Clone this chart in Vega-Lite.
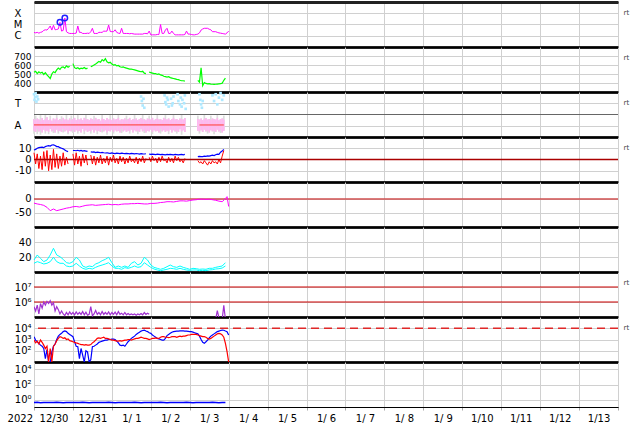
{
"$schema":"https://vega.github.io/schema/vega-lite/v6.json",
"padding":{"left":6,"top":1,"right":0,"bottom":0},
"spacing":0,
"bounds":"flush",
"datasets":{
"h":[
{"t":"2022-12-30T00:00","xr":2.0,"sp":520,"bt":8.4,"bz":6,"p7":4.9e5,"e1":1778,"e2":891,"pl":0.55,"ph":1.6,"gl":0.3,"gh":1.6},
{"t":"2022-12-30T01:00","xr":1.8,"sp":530,"bt":9,"bz":-4,"p7":2.5e5,"e1":891,"e2":501,"pl":0.45,"ph":1.5,"gl":0.45,"gh":1.9},
{"t":"2022-12-30T02:00","xr":2.0,"sp":505,"bt":10,"bz":5,"p7":6.2e5,"e1":631,"e2":708,"pl":0.7,"ph":1.65,"gl":0.25,"gh":1.65},
{"t":"2022-12-30T03:00","xr":1.7,"sp":525,"bt":10.5,"bz":-8,"p7":1.6e5,"e1":457,"e2":398,"pl":0.5,"ph":1.55,"gl":0.5,"gh":1.55},
{"t":"2022-12-30T04:00","xr":2.0,"sp":510,"bt":10.8,"bz":3,"p7":7.9e5,"e1":316,"e2":891,"pl":0.6,"ph":1.45,"gl":0.2,"gh":1.95},
{"t":"2022-12-30T05:00","xr":2.2,"sp":520,"bt":11,"bz":-9,"p7":3.9e5,"e1":251,"e2":562,"pl":0.4,"ph":1.7,"gl":0.4,"gh":1.7},
{"t":"2022-12-30T06:00","xr":3.0,"sp":495,"bt":10.5,"bz":7,"p7":9.9e5,"e1":158,"e2":316,"pl":0.65,"ph":1.5,"gl":0.65,"gh":1.5},
{"t":"2022-12-30T07:00","xr":3.4,"sp":515,"bt":11.5,"bz":-6,"p7":6.2e5,"e1":20,"e2":158,"pl":0.5,"ph":1.6,"gl":0.3,"gh":2.05},
{"t":"2022-12-30T08:00","xr":3.2,"sp":490,"bt":12,"bz":8,"p7":1.08e6,"e1":126,"e2":251,"pl":0.55,"ph":1.75,"gl":0.55,"gh":1.75},
{"t":"2022-12-30T09:00","xr":4.6,"sp":470,"bt":12.3,"bz":-10,"p7":7.9e5,"e1":10,"e2":10,"pl":0.45,"ph":1.5,"gl":0.25,"gh":1.5},
{"t":"2022-12-30T10:00","xr":7.4,"sp":450,"bt":12,"bz":4,"p7":1.24e6,"e1":10,"e2":158,"pl":0.7,"ph":1.6,"gl":0.7,"gh":1.9},
{"t":"2022-12-30T11:00","xr":3.2,"sp":500,"bt":12.9,"bz":-9,"p7":6.2e5,"e1":79,"e2":10,"pl":0.5,"ph":1.45,"gl":0.5,"gh":1.45},
{"t":"2022-12-30T12:00","xr":8.5,"sp":525,"bt":13,"bz":9,"p7":9e5,"e1":251,"e2":251,"pl":0.6,"ph":1.65,"gl":0.35,"gh":1.65},
{"t":"2022-12-30T13:00","xr":3.4,"sp":515,"bt":12.5,"bz":-7,"p7":2.5e5,"e1":398,"e2":398,"pl":0.4,"ph":1.55,"gl":0.4,"gh":1.55},
{"t":"2022-12-30T14:00","xr":3.6,"sp":545,"bt":11.5,"bz":5,"p7":4.9e5,"e1":1000,"e2":794,"pl":0.65,"ph":1.7,"gl":0.65,"gh":2.0},
{"t":"2022-12-30T15:00","xr":4.0,"sp":565,"bt":11.4,"bz":-8,"p7":3.1e5,"e1":1995,"e2":1259,"pl":0.5,"ph":1.5,"gl":0.3,"gh":1.5},
{"t":"2022-12-30T16:00","xr":15.5,"sp":550,"bt":10.5,"bz":3,"p7":1.6e5,"e1":2818,"e2":1778,"pl":0.55,"ph":1.6,"gl":0.55,"gh":1.6},
{"t":"2022-12-30T17:00","xr":2.6,"sp":575,"bt":10,"bz":-6,"p7":2.5e5,"e1":3548,"e2":1585,"pl":0.45,"ph":1.45,"gl":0.45,"gh":1.85},
{"t":"2022-12-30T18:00","xr":3.0,"sp":580,"bt":9.5,"bz":6,"p7":1.6e5,"e1":5012,"e2":1259,"pl":0.7,"ph":1.7,"gl":0.4,"gh":1.7},
{"t":"2022-12-30T19:00","xr":38,"sp":565,"bt":8.5,"bz":-5,"p7":1.24e5,"e1":5754,"e2":1413,"pl":0.5,"ph":1.55,"gl":0.5,"gh":1.55},
{"t":"2022-12-30T20:00","xr":2.3,"sp":590,"bt":7.5,"bz":2,"p7":2.0e5,"e1":5012,"e2":1000,"pl":0.6,"ph":1.6,"gl":0.6,"gh":2.0},
{"t":"2022-12-30T21:00","xr":1.8,"sp":575,"bt":7,"bz":-4,"p7":1.4e5,"e1":3548,"e2":1122,"pl":0.4,"ph":1.5,"gl":0.25,"gh":1.5},
{"t":"2022-12-30T22:00","xr":1.6,"sp":585,"p7":2.2e5,"e1":2818,"e2":794,"pl":0.55,"ph":1.65,"gl":0.55,"gh":1.65},
{"t":"2022-12-30T23:00","xr":1.6,"p7":1.5e5,"e1":2239,"e2":708,"pl":0.5,"ph":1.5,"gl":0.5,"gh":1.9},
{"t":"2022-12-31T00:00","xr":1.6,"sp":615,"bt":8,"bz":5,"p7":2.0e5,"e1":1778,"e2":631,"pl":0.65,"ph":1.6,"gl":0.35,"gh":1.6},
{"t":"2022-12-31T01:00","xr":1.6,"sp":570,"bt":8,"bz":-5,"p7":1.4e5,"e1":631,"e2":562,"pl":0.45,"ph":1.7,"gl":0.45,"gh":1.7},
{"t":"2022-12-31T02:00","xr":1.7,"sp":560,"bt":7.8,"bz":6,"p7":2.2e5,"e1":251,"e2":501,"pl":0.6,"ph":1.5,"gl":0.6,"gh":1.5},
{"t":"2022-12-31T03:00","xr":7.4,"sp":570,"bt":8.2,"bz":-4,"p7":1.5e5,"e1":229,"e2":457,"pl":0.5,"ph":1.6,"gl":0.3,"gh":2.0},
{"t":"2022-12-31T04:00","xr":2.0,"sp":555,"bt":7.6,"bz":3,"p7":2.0e5,"e1":20,"e2":398,"pl":0.55,"ph":1.55,"gl":0.55,"gh":1.55},
{"t":"2022-12-31T05:00","xr":2.0,"sp":565,"bt":8,"bz":-6,"p7":1.5e5,"e1":158,"e2":355,"pl":0.4,"ph":1.65,"gl":0.4,"gh":1.65},
{"t":"2022-12-31T06:00","xr":1.6,"sp":560,"bt":7.5,"bz":5,"p7":2.3e5,"e1":40,"e2":355,"pl":0.7,"ph":1.5,"gl":0.7,"gh":1.5},
{"t":"2022-12-31T07:00","xr":1.6,"sp":572,"bt":7.8,"bz":-3,"p7":1.4e5,"e1":10,"e2":316,"pl":0.5,"ph":1.7,"gl":0.25,"gh":1.7},
{"t":"2022-12-31T08:00","xr":1.6,"sp":558,"bt":7.5,"bz":4,"p7":2.1e5,"e1":100,"e2":355,"pl":0.6,"ph":1.55,"gl":0.6,"gh":1.95},
{"t":"2022-12-31T09:00","xr":1.7,"sp":565,"bt":7.2,"bz":-5,"p7":1.3e5,"e1":79,"e2":316,"pl":0.45,"ph":1.6,"gl":0.45,"gh":1.6},
{"t":"2022-12-31T10:00","xr":1.6,"p7":1.5e5,"e1":10,"e2":316,"pl":0.55,"ph":1.5,"gl":0.55,"gh":1.5},
{"t":"2022-12-31T11:00","xr":2.3,"sp":580,"bt":6.8,"bz":4,"p7":4.9e5,"e1":16,"e2":355,"pl":0.5,"ph":1.65,"gl":0.3,"gh":1.65},
{"t":"2022-12-31T12:00","xr":4.6,"sp":590,"bt":6.5,"bz":-4,"p7":1.2e5,"e1":229,"e2":501,"pl":0.65,"ph":1.6,"gl":0.65,"gh":1.6},
{"t":"2022-12-31T13:00","xr":1.6,"sp":600,"bt":6.8,"bz":3,"p7":1.6e5,"e1":251,"e2":631,"pl":0.4,"ph":1.5,"gl":0.4,"gh":1.9},
{"t":"2022-12-31T14:00","xr":1.6,"sp":610,"bt":6.2,"bz":-5,"p7":2.7e5,"e1":316,"e2":891,"pl":0.6,"ph":1.7,"gl":0.6,"gh":1.7},
{"t":"2022-12-31T15:00","xr":1.6,"sp":625,"bt":6.5,"bz":2,"p7":1.5e5,"e1":398,"e2":1259,"pl":0.5,"ph":1.55,"gl":0.25,"gh":1.55},
{"t":"2022-12-31T16:00","xr":2.0,"sp":640,"bt":6.4,"bz":-3,"p7":2.0e5,"e1":562,"e2":1413,"pl":0.55,"ph":1.6,"gl":0.55,"gh":1.6},
{"t":"2022-12-31T17:00","xr":2.0,"sp":630,"bt":6.0,"bz":4,"p7":1.4e5,"e1":631,"e2":1259,"pl":0.45,"ph":1.45,"gl":0.45,"gh":1.45},
{"t":"2022-12-31T18:00","xr":2.0,"sp":660,"bt":6.3,"bz":-4,"p7":2.3e5,"e1":708,"e2":1445,"pl":0.7,"ph":1.65,"gl":0.4,"gh":2.05},
{"t":"2022-12-31T19:00","xr":2.6,"sp":645,"bt":6.0,"bz":1,"p7":1.5e5,"e1":794,"e2":1585,"pl":0.5,"ph":1.6,"gl":0.5,"gh":1.6},
{"t":"2022-12-31T20:00","xr":2.5,"sp":670,"bt":5.8,"bz":-3,"p7":2.0e5,"e1":891,"e2":1259,"pl":0.6,"ph":1.5,"gl":0.6,"gh":1.5},
{"t":"2022-12-31T21:00","xr":2.6,"sp":635,"bt":6.0,"bz":3,"p7":1.5e5,"e1":891,"e2":1259,"pl":0.4,"ph":1.7,"gl":0.2,"gh":1.7},
{"t":"2022-12-31T22:00","xr":9.1,"sp":625,"bt":5.6,"bz":-5,"p7":2.2e5,"e1":1000,"e2":1122,"pl":0.55,"ph":1.55,"gl":0.55,"gh":1.55},
{"t":"2022-12-31T23:00","xr":2.4,"sp":630,"bt":5.4,"bz":2,"p7":1.4e5,"e1":1000,"e2":1000,"pl":0.5,"ph":1.6,"gl":0.5,"gh":1.95},
{"t":"2023-01-01T00:00","xr":2.3,"sp":610,"bt":5.8,"bz":-2,"p7":2.0e5,"e1":1096,"e2":891,"pl":0.65,"ph":1.5,"gl":0.65,"gh":1.5},
{"t":"2023-01-01T01:00","xr":2.3,"sp":600,"bt":5.5,"bz":4,"p7":1.5e5,"e1":1096,"e2":891,"pl":0.45,"ph":1.65,"gl":0.3,"gh":1.65},
{"t":"2023-01-01T02:00","xr":3.4,"sp":605,"bt":5.2,"bz":-3,"p7":2.1e5,"e1":1000,"e2":794,"pl":0.6,"ph":1.55,"gl":0.6,"gh":1.55},
{"t":"2023-01-01T03:00","xr":2.0,"sp":590,"bt":5.6,"bz":1,"p7":1.4e5,"e1":708,"e2":708,"pl":0.5,"ph":1.6,"gl":0.5,"gh":1.6},
{"t":"2023-01-01T04:00","xr":1.7,"sp":595,"bt":5.5,"bz":-4,"p7":2.3e5,"e1":501,"e2":708,"pl":0.55,"ph":1.7,"gl":0.55,"gh":2.0},
{"t":"2023-01-01T05:00","xr":1.6,"sp":580,"bt":5.3,"bz":3,"p7":1.5e5,"e1":316,"e2":794,"pl":0.4,"ph":1.5,"gl":0.4,"gh":1.5},
{"t":"2023-01-01T06:00","xr":4.6,"sp":575,"bt":5.7,"bz":-2,"p7":1.8e5,"e1":282,"e2":708,"pl":0.7,"ph":1.6,"gl":0.35,"gh":1.6},
{"t":"2023-01-01T07:00","xr":1.6,"sp":580,"bt":5.4,"bz":2,"p7":1.4e5,"e1":316,"e2":794,"pl":0.5,"ph":1.55,"gl":0.5,"gh":1.55},
{"t":"2023-01-01T08:00","xr":1.6,"sp":570,"bt":5.2,"bz":-4,"p7":2.0e5,"e1":251,"e2":891,"pl":0.6,"ph":1.65,"gl":0.6,"gh":1.65},
{"t":"2023-01-01T09:00","xr":1.6,"sp":565,"bt":5.5,"bz":1,"p7":1.4e5,"e1":398,"e2":891,"pl":0.45,"ph":1.5,"gl":0.45,"gh":1.9},
{"t":"2023-01-01T10:00","xr":1.6,"sp":560,"bt":5.3,"bz":-3,"p7":1.7e5,"e1":631,"e2":1000,"pl":0.55,"ph":1.6,"gl":0.55,"gh":1.6},
{"t":"2023-01-01T11:00","xr":1.5,"sp":555,"bt":5.0,"bz":3,"p7":1.4e5,"e1":891,"e2":1000,"pl":0.5,"ph":1.7,"gl":0.3,"gh":1.7},
{"t":"2023-01-01T12:00","xr":1.6,"sp":555,"bt":5.4,"bz":-2,"p7":1.6e5,"e1":1259,"e2":891,"pl":0.65,"ph":1.5,"gl":0.65,"gh":1.5},
{"t":"2023-01-01T13:00","xr":1.5,"sp":550,"bt":5.2,"bz":0,"p7":1.4e5,"e1":1585,"e2":1000,"pl":0.4,"ph":1.6,"gl":0.4,"gh":1.6},
{"t":"2023-01-01T14:00","xr":1.4,"sp":545,"bt":5.0,"bz":-3,"p7":1.6e5,"e1":1995,"e2":1122,"pl":0.6,"ph":1.55,"gl":0.6,"gh":1.95},
{"t":"2023-01-01T15:00","xr":1.4,"sp":540,"bt":5.3,"bz":2,"p7":1.3e5,"e1":2818,"e2":1259,"pl":0.5,"ph":1.65,"gl":0.5,"gh":1.65},
{"t":"2023-01-01T16:00","xr":1.4,"sp":535,"bt":5.1,"bz":-4,"p7":1.6e5,"e1":3548,"e2":1259,"pl":0.55,"ph":1.5,"gl":0.25,"gh":1.5},
{"t":"2023-01-01T17:00","xr":1.4,"sp":530,"bt":4.8,"bz":1,"p7":1.4e5,"e1":4467,"e2":1413,"pl":0.45,"ph":1.6,"gl":0.45,"gh":1.6},
{"t":"2023-01-01T18:00","xr":1.4,"sp":525,"bt":5.2,"bz":-2,"p7":1.7e5,"e1":5623,"e2":1585,"pl":0.7,"ph":1.7,"gl":0.7,"gh":1.7},
{"t":"2023-01-01T19:00","xr":1.4,"sp":530,"bt":5.0,"bz":3,"p7":1.4e5,"e1":6310,"e2":1445,"pl":0.5,"ph":1.55,"gl":0.5,"gh":2.0},
{"t":"2023-01-01T20:00","xr":1.6,"sp":510,"bt":4.9,"bz":-3,"p7":2.0e5,"e1":6918,"e2":1259,"pl":0.6,"ph":1.6,"gl":0.35,"gh":1.6},
{"t":"2023-01-01T21:00","xr":1.6,"sp":505,"bt":5.1,"bz":1,"p7":1.5e5,"e1":5623,"e2":1259,"pl":0.4,"ph":1.5,"gl":0.4,"gh":1.5},
{"t":"2023-01-01T22:00","xr":1.5,"p7":1.8e5,"e1":5012,"e2":1122,"pl":0.55,"ph":1.65,"gl":0.55,"gh":1.65},
{"t":"2023-01-01T23:00","xr":2.6,"sp":520,"bt":4.8,"bz":2,"p7":1.5e5,"e1":3981,"e2":1000,"pl":0.5,"ph":1.6,"gl":0.5,"gh":1.9},
{"t":"2023-01-02T00:00","xr":1.2,"sp":515,"bt":4.5,"bz":-2,"e1":3548,"e2":1096,"pl":0.65,"ph":1.55,"gl":0.65,"gh":1.55},
{"t":"2023-01-02T01:00","xr":1.2,"sp":510,"bt":4.8,"bz":3,"e1":2512,"e2":1259,"pl":0.45,"ph":1.7,"gl":0.25,"gh":1.7},
{"t":"2023-01-02T02:00","xr":1.2,"sp":505,"bt":4.6,"bz":-1,"e1":1995,"e2":1259,"pl":0.6,"ph":1.5,"gl":0.6,"gh":1.5},
{"t":"2023-01-02T03:00","xr":1.2,"sp":505,"bt":4.4,"bz":1,"e1":1585,"e2":1413,"pl":0.5,"ph":1.6,"gl":0.5,"gh":1.6},
{"t":"2023-01-02T04:00","xr":1.3,"sp":495,"bt":4.7,"bz":-3,"e1":1259,"e2":1259,"pl":0.55,"ph":1.65,"gl":0.55,"gh":2.0},
{"t":"2023-01-02T05:00","xr":1.3,"sp":500,"bt":4.5,"bz":2,"e1":1122,"e2":1259,"pl":0.4,"ph":1.55,"gl":0.4,"gh":1.55},
{"t":"2023-01-02T06:00","xr":10,"sp":490,"bt":4.3,"bz":-2,"e1":1000,"e2":1585,"pl":0.7,"ph":1.6,"gl":0.3,"gh":1.6},
{"t":"2023-01-02T07:00","xr":1.6,"sp":485,"bt":4.6,"bz":3,"e1":891,"e2":1778,"pl":0.5,"ph":1.5,"gl":0.5,"gh":1.5},
{"t":"2023-01-02T08:00","xr":1.6,"sp":475,"bt":4.4,"bz":-1,"e1":891,"e2":1778,"pl":0.6,"ph":1.7,"gl":0.6,"gh":1.7},
{"t":"2023-01-02T09:00","xr":3.2,"sp":470,"bt":4.2,"bz":0,"e1":1259,"e2":1585,"pl":0.45,"ph":1.6,"gl":0.45,"gh":2.05},
{"t":"2023-01-02T10:00","xr":4.6,"sp":465,"bt":4.5,"bz":-3,"e1":2239,"e2":1585,"pl":0.55,"ph":1.55,"gl":0.55,"gh":1.55},
{"t":"2023-01-02T11:00","xr":1.6,"sp":470,"bt":4.3,"bz":2,"e1":2818,"e2":1445,"pl":0.5,"ph":1.65,"gl":0.25,"gh":1.65},
{"t":"2023-01-02T12:00","xr":1.6,"sp":460,"bt":4.6,"bz":-2,"e1":3548,"e2":1585,"pl":0.65,"ph":1.5,"gl":0.65,"gh":1.5},
{"t":"2023-01-02T13:00","xr":2.6,"sp":455,"bt":4.4,"bz":1,"e1":4467,"e2":1778,"pl":0.4,"ph":1.6,"gl":0.4,"gh":1.6},
{"t":"2023-01-02T14:00","xr":1.6,"sp":450,"bt":4.2,"bz":-3,"e1":5012,"e2":1778,"pl":0.6,"ph":1.7,"gl":0.6,"gh":1.95},
{"t":"2023-01-02T15:00","xr":1.2,"sp":445,"bt":4.5,"bz":3,"e1":5248,"e2":1778,"pl":0.5,"ph":1.55,"gl":0.5,"gh":1.55},
{"t":"2023-01-02T16:00","xr":1.2,"sp":440,"bt":4.3,"bz":-1,"e1":5495,"e2":1585,"pl":0.55,"ph":1.6,"gl":0.3,"gh":1.6},
{"t":"2023-01-02T17:00","xr":1.2,"sp":438,"bt":4.1,"bz":2,"e1":5623,"e2":1778,"pl":0.45,"ph":1.5,"gl":0.45,"gh":1.5},
{"t":"2023-01-02T18:00","xr":1.2,"sp":430,"bt":4.4,"bz":-2,"e1":5754,"e2":1995,"pl":0.7,"ph":1.65,"gl":0.7,"gh":1.65},
{"t":"2023-01-02T19:00","xr":1.2,"sp":425,"bt":4.6,"bz":0,"e1":5754,"e2":1778,"pl":0.5,"ph":1.6,"gl":0.2,"gh":2.0},
{"t":"2023-01-02T20:00","xr":1.2,"sp":425,"bt":4.2,"bz":-3,"e1":5754,"e2":1995,"pl":0.6,"ph":1.55,"gl":0.6,"gh":1.55},
{"t":"2023-01-02T21:00","xr":1.3,"sp":420,"bt":4.5,"bz":1,"e1":5623,"e2":1995,"pl":0.45,"ph":1.7,"gl":0.45,"gh":1.7},
{"t":"2023-01-02T22:00","xr":2.6,"e1":5495,"e2":2239},
{"t":"2023-01-02T23:00","xr":1.4,"e1":5248,"e2":2512},
{"t":"2023-01-03T00:00","xr":1.4,"e1":5012,"e2":2512},
{"t":"2023-01-03T01:00","xr":1.3,"e1":5012,"e2":2818},
{"t":"2023-01-03T02:00","xr":1.2,"e1":4467,"e2":2818},
{"t":"2023-01-03T03:00","xr":1.2,"e1":3981,"e2":2884},
{"t":"2023-01-03T04:00","xr":1.3,"e1":3548,"e2":2884},
{"t":"2023-01-03T05:00","xr":1.4,"sp":430,"bt":2.5,"bz":-1,"e1":3162,"e2":2512,"pl":0.55,"ph":1.6,"gl":0.55,"gh":1.9},
{"t":"2023-01-03T06:00","xr":1.8,"sp":410,"bt":2.8,"bz":-3,"e1":1995,"e2":2239,"pl":0.5,"ph":1.55,"gl":0.3,"gh":1.55},
{"t":"2023-01-03T07:00","xr":3.2,"sp":570,"bt":2.5,"bz":-2,"e1":1000,"e2":1995,"pl":0.6,"ph":1.65,"gl":0.6,"gh":1.65},
{"t":"2023-01-03T08:00","xr":4.0,"sp":370,"bt":2.6,"bz":-4,"e1":562,"e2":1778,"pl":0.45,"ph":1.5,"gl":0.45,"gh":1.5},
{"t":"2023-01-03T09:00","xr":4.6,"sp":405,"bt":3.0,"bz":-1,"e1":457,"e2":1778,"pl":0.65,"ph":1.6,"gl":0.65,"gh":2.0},
{"t":"2023-01-03T10:00","xr":4.6,"sp":395,"bt":2.8,"bz":-3,"e1":631,"e2":1585,"pl":0.5,"ph":1.7,"gl":0.5,"gh":1.7},
{"t":"2023-01-03T11:00","xr":4.6,"sp":390,"bt":3.2,"bz":-5,"e1":891,"e2":1259,"pl":0.55,"ph":1.55,"gl":0.3,"gh":1.55},
{"t":"2023-01-03T12:00","xr":3.8,"sp":392,"bt":3.0,"bz":-2,"e1":1413,"e2":1096,"pl":0.4,"ph":1.6,"gl":0.4,"gh":1.6},
{"t":"2023-01-03T13:00","xr":3.4,"sp":388,"bt":3.5,"bz":-4,"e1":1995,"e2":1259,"pl":0.6,"ph":1.5,"gl":0.6,"gh":1.9},
{"t":"2023-01-03T14:00","xr":2.3,"sp":386,"bt":3.8,"bz":-1,"e1":2512,"e2":1585,"pl":0.5,"ph":1.65,"gl":0.5,"gh":1.65},
{"t":"2023-01-03T15:00","xr":2.3,"sp":385,"bt":3.5,"bz":-3,"e1":3162,"e2":1995,"pl":0.55,"ph":1.6,"gl":0.25,"gh":1.6},
{"t":"2023-01-03T16:00","xr":2.3,"sp":386,"bt":4.2,"bz":-2,"p7":7e4,"e1":3981,"e2":2512,"pl":0.45,"ph":1.55,"gl":0.45,"gh":1.55},
{"t":"2023-01-03T17:00","xr":2.0,"sp":388,"bt":4.8,"bz":-4,"p7":2.7e5,"e1":5012,"e2":3162,"pl":0.65,"ph":1.7,"gl":0.65,"gh":2.0},
{"t":"2023-01-03T18:00","xr":1.8,"sp":390,"bt":4.5,"bz":0,"p7":9e4,"e1":5623,"e2":3548,"pl":0.5,"ph":1.5,"gl":0.5,"gh":1.5},
{"t":"2023-01-03T19:00","xr":1.7,"sp":392,"bt":6.5,"bz":-3,"p7":7e4,"e1":6310,"e2":3162,"pl":0.6,"ph":1.6,"gl":0.35,"gh":1.6},
{"t":"2023-01-03T20:00","xr":1.6,"sp":398,"bt":7.5,"bz":3,"p7":7e4,"e1":6918,"e2":2512,"pl":0.4,"ph":1.65,"gl":0.4,"gh":1.65},
{"t":"2023-01-03T21:00","xr":1.5,"sp":430,"bt":9,"bz":8,"p7":6e5,"e1":6607,"e2":1585,"pl":0.55,"ph":1.55,"gl":0.55,"gh":1.9},
{"t":"2023-01-03T22:00","xr":1.4,"sp":455,"p7":7e4,"e1":5623,"e2":457},
{"t":"2023-01-03T23:00","xr":1.8,"e1":5012,"e2":83},
{"t":"2023-01-04T00:00","xr":2.6,"e1":2512,"e2":10}
],
"d2":[
{"t":"2022-12-30T00:00","dst":-15,"c1":16,"c2":11.6,"pb":0.4},
{"t":"2022-12-30T02:00","dst":-18,"c1":22.7,"c2":13.8,"pb":0.42},
{"t":"2022-12-30T04:00","dst":-20,"c1":18.2,"c2":12.4,"pb":0.38},
{"t":"2022-12-30T06:00","dst":-23,"c1":13.8,"c2":10.7,"pb":0.4},
{"t":"2022-12-30T08:00","dst":-30,"c1":16,"c2":11.6,"pb":0.41},
{"t":"2022-12-30T10:00","dst":-42,"c1":22.7,"c2":13.8,"pb":0.39},
{"t":"2022-12-30T12:00","dst":-36,"c1":31.6,"c2":19.6,"pb":0.4},
{"t":"2022-12-30T14:00","dst":-42,"c1":22.7,"c2":13.8,"pb":0.42},
{"t":"2022-12-30T16:00","dst":-39,"c1":20.4,"c2":11.6,"pb":0.4},
{"t":"2022-12-30T18:00","dst":-36,"c1":16.9,"c2":11.6,"pb":0.38},
{"t":"2022-12-30T20:00","dst":-33,"c1":12.4,"c2":8,"pb":0.4},
{"t":"2022-12-30T22:00","dst":-31,"c1":11.6,"c2":7.1,"pb":0.41},
{"t":"2022-12-31T00:00","dst":-28,"c1":13.8,"c2":8,"pb":0.4},
{"t":"2022-12-31T02:00","dst":-27,"c1":19.6,"c2":11.6,"pb":0.39},
{"t":"2022-12-31T04:00","dst":-29,"c1":16,"c2":8,"pb":0.4},
{"t":"2022-12-31T06:00","dst":-26,"c1":8,"c2":4.9,"pb":0.42},
{"t":"2022-12-31T08:00","dst":-23,"c1":6.2,"c2":3.6,"pb":0.4},
{"t":"2022-12-31T10:00","dst":-22,"c1":8,"c2":4.9,"pb":0.38},
{"t":"2022-12-31T12:00","dst":-21,"c1":7.1,"c2":4,"pb":0.4},
{"t":"2022-12-31T14:00","dst":-23,"c1":10.7,"c2":6.2,"pb":0.41},
{"t":"2022-12-31T16:00","dst":-22,"c1":12.4,"c2":8,"pb":0.4},
{"t":"2022-12-31T18:00","dst":-21,"c1":15.1,"c2":9.3,"pb":0.39},
{"t":"2022-12-31T20:00","dst":-20,"c1":16.9,"c2":10.7,"pb":0.4},
{"t":"2022-12-31T22:00","dst":-19,"c1":19.6,"c2":12.4,"pb":0.42},
{"t":"2023-01-01T00:00","dst":-21,"c1":12.4,"c2":8,"pb":0.4},
{"t":"2023-01-01T02:00","dst":-20,"c1":6.2,"c2":4.9,"pb":0.38},
{"t":"2023-01-01T04:00","dst":-21,"c1":8,"c2":4.9,"pb":0.4},
{"t":"2023-01-01T06:00","dst":-19,"c1":6.2,"c2":3.6,"pb":0.41},
{"t":"2023-01-01T08:00","dst":-18,"c1":8,"c2":5.8,"pb":0.4},
{"t":"2023-01-01T10:00","dst":-18,"c1":6.2,"c2":4.9,"pb":0.39},
{"t":"2023-01-01T12:00","dst":-17,"c1":11.6,"c2":6.2,"pb":0.4},
{"t":"2023-01-01T14:00","dst":-17,"c1":13.8,"c2":8,"pb":0.42},
{"t":"2023-01-01T16:00","dst":-16,"c1":9.3,"c2":6.2,"pb":0.4},
{"t":"2023-01-01T18:00","dst":-17,"c1":11.6,"c2":7.1,"pb":0.38},
{"t":"2023-01-01T20:00","dst":-18,"c1":19.6,"c2":12.4,"pb":0.4},
{"t":"2023-01-01T22:00","dst":-18,"c1":16,"c2":9.3,"pb":0.41},
{"t":"2023-01-02T00:00","dst":-16,"c1":9.3,"c2":6.2,"pb":0.4},
{"t":"2023-01-02T02:00","dst":-16,"c1":6.2,"c2":4,"pb":0.39},
{"t":"2023-01-02T04:00","dst":-15,"c1":4.9,"c2":2.7,"pb":0.4},
{"t":"2023-01-02T06:00","dst":-13,"c1":3.6,"c2":1.8,"pb":0.42},
{"t":"2023-01-02T08:00","dst":-12,"c1":4.9,"c2":2.7,"pb":0.4},
{"t":"2023-01-02T10:00","dst":-10,"c1":7.1,"c2":3.6,"pb":0.38},
{"t":"2023-01-02T12:00","dst":-10,"c1":9.3,"c2":4.9,"pb":0.4},
{"t":"2023-01-02T14:00","dst":-11,"c1":7.1,"c2":4.4,"pb":0.41},
{"t":"2023-01-02T16:00","dst":-9,"c1":6.2,"c2":3.6,"pb":0.4},
{"t":"2023-01-02T18:00","dst":-7,"c1":8,"c2":4.9,"pb":0.39},
{"t":"2023-01-02T20:00","dst":-7,"c1":6.2,"c2":3.6,"pb":0.4},
{"t":"2023-01-02T22:00","dst":-8,"c1":4.9,"c2":2.7,"pb":0.42},
{"t":"2023-01-03T00:00","dst":-6,"c1":3.6,"c2":2.2,"pb":0.4},
{"t":"2023-01-03T02:00","dst":-4,"c1":4.9,"c2":2.7,"pb":0.38},
{"t":"2023-01-03T04:00","dst":-3,"c1":4.4,"c2":2.7,"pb":0.4},
{"t":"2023-01-03T06:00","dst":-1,"c1":3.6,"c2":1.8,"pb":0.41},
{"t":"2023-01-03T08:00","dst":-1,"c1":4,"c2":2.2,"pb":0.4},
{"t":"2023-01-03T10:00","dst":-2,"c1":3.6,"c2":1.8,"pb":0.39},
{"t":"2023-01-03T12:00","dst":-1,"c1":4.9,"c2":2.7,"pb":0.4},
{"t":"2023-01-03T14:00","dst":-3,"c1":4.9,"c2":3.1,"pb":0.42},
{"t":"2023-01-03T16:00","dst":-5,"c1":6.2,"c2":4,"pb":0.4},
{"t":"2023-01-03T18:00","dst":-8,"c1":7.1,"c2":4.4,"pb":0.38},
{"t":"2023-01-03T20:00","dst":-10,"c1":8,"c2":5.3,"pb":0.4},
{"t":"2023-01-03T22:00","dst":1,"c1":12.4,"c2":8,"pb":0.41},
{"t":"2023-01-03T23:00","dst":8},
{"t":"2023-01-04T00:00","dst":-27,"c1":6.2,"c2":4.4,"pb":0.4}
],
"tb":[
{"t":"2022-12-30T00:00","v":3.8},{"t":"2022-12-30T00:20","v":3.3},{"t":"2022-12-30T00:40","v":3.55},{"t":"2022-12-30T01:00","v":3.9},{"t":"2022-12-30T01:30","v":3.15},{"t":"2022-12-30T02:00","v":3.6},{"t":"2022-12-30T02:30","v":3.35},
{"t":"2023-01-01T18:00","v":3.6},{"t":"2023-01-01T18:30","v":3.2},{"t":"2023-01-01T19:00","v":2.8},{"t":"2023-01-01T19:30","v":3.4},{"t":"2023-01-01T20:00","v":2.6},
{"t":"2023-01-02T08:30","v":3.7},{"t":"2023-01-02T09:00","v":3.1},{"t":"2023-01-02T09:30","v":2.9},{"t":"2023-01-02T10:00","v":3.5},{"t":"2023-01-02T10:30","v":3.3},{"t":"2023-01-02T11:00","v":2.7},
{"t":"2023-01-02T12:30","v":3.4},{"t":"2023-01-02T13:00","v":2.8},{"t":"2023-01-02T13:30","v":3.0},{"t":"2023-01-02T14:00","v":3.6},
{"t":"2023-01-02T16:30","v":3.8},{"t":"2023-01-02T17:00","v":3.2},{"t":"2023-01-02T18:00","v":2.9},{"t":"2023-01-02T18:30","v":3.5},{"t":"2023-01-02T19:00","v":2.7},{"t":"2023-01-02T19:30","v":3.3},{"t":"2023-01-02T20:30","v":3.0},{"t":"2023-01-02T21:00","v":3.7},{"t":"2023-01-02T21:30","v":2.5},
{"t":"2023-01-03T06:00","v":3.8},{"t":"2023-01-03T06:30","v":3.3},{"t":"2023-01-03T07:00","v":2.9},{"t":"2023-01-03T07:30","v":2.6},{"t":"2023-01-03T08:00","v":3.2},
{"t":"2023-01-03T14:00","v":3.7},{"t":"2023-01-03T15:00","v":3.2},{"t":"2023-01-03T16:00","v":3.8},{"t":"2023-01-03T17:00","v":2.9},{"t":"2023-01-03T18:00","v":3.5},{"t":"2023-01-03T19:00","v":3.9},{"t":"2023-01-03T20:00","v":3.3},{"t":"2023-01-03T21:00","v":3.7}
],
"fl":[{"t":"2022-12-30T16:00","xr":15.5},{"t":"2022-12-30T19:00","xr":38}],
"seg":[{"t":"2022-12-30T00:00","t2":"2023-01-02T21:00","v":1.07},{"t":"2023-01-03T06:00","t2":"2023-01-03T21:00","v":1.07}]
},
"vconcat":[
{"width":584,"height":45,"layer":[
 {"data":{"name":"h"},"mark":{"type":"line","color":"#ff00ff","strokeWidth":1},
  "encoding":{"x":{"field":"t","type":"temporal","title":null,"scale":{"domain":[{"year":2022,"month":12,"date":30},{"year":2023,"month":1,"date":14}]},"axis":{"orient":"bottom"}},
   "y":{"field":"xr","type":"quantitative","scale":{"type":"log","domain":[0.1,1000]},"axis":{"values":[1,10,100],"labelOverlap":false,"labelExpr":"datum.value>50?'X':datum.value>5?'M':'C'","labelAlign":"center","labelPadding":16.5,"title":"rt"}}}},
 {"data":{"name":"fl"},"mark":{"type":"point","color":"#2020ff","filled":false,"strokeWidth":1.5,"size":30,"opacity":1},
  "encoding":{"x":{"field":"t","type":"temporal","title":null,"axis":{"orient":"top","grid":false}},"y":{"field":"xr","type":"quantitative"}}}
]},
{"width":584,"height":45,"data":{"name":"h"},"mark":{"type":"line","color":"#00ff00","strokeWidth":1.2,"invalid":"break-paths-show-domains"},
 "encoding":{"x":{"field":"t","type":"temporal","title":null,"scale":{"domain":[{"year":2022,"month":12,"date":30},{"year":2023,"month":1,"date":14}]}},
  "y":{"field":"sp","type":"quantitative","scale":{"domain":[300,800]},"axis":{"values":[400,500,600,700],"labelOverlap":false,"labelFontSize":9,"title":"rt"}}}},
{"width":584,"height":45,"layer":[
 {"data":{"name":"h"},"mark":{"type":"rule","color":"#dddddd","strokeWidth":1.7},
  "encoding":{"x":{"field":"t","type":"temporal","title":null,"scale":{"domain":[{"year":2022,"month":12,"date":30},{"year":2023,"month":1,"date":14}]}},
   "y":{"field":"gl","type":"quantitative","scale":{"domain":[0,4]},"axis":{"values":[1,3],"labelOverlap":false,"labelExpr":"datum.value>2?'T':'A'","labelAlign":"center","labelPadding":16.5,"title":"rt"}},"y2":{"field":"gh"}}},
 {"data":{"name":"h"},"mark":{"type":"rule","color":"#ffb8f0","strokeWidth":1.7},
  "encoding":{"x":{"field":"t","type":"temporal"},"y":{"field":"pl","type":"quantitative"},"y2":{"field":"ph"}}},
 {"data":{"values":[{}]},"mark":{"type":"rule","color":"#666666","strokeWidth":1},"encoding":{"y":{"datum":2,"type":"quantitative"}}},
 {"data":{"name":"seg"},"mark":{"type":"rule","color":"#ff5050","strokeWidth":1.2},
  "encoding":{"x":{"field":"t","type":"temporal"},"x2":{"field":"t2"},"y":{"field":"v","type":"quantitative"}}},
 {"data":{"name":"tb"},"mark":{"type":"square","color":"#aee8ff","size":7,"opacity":1},
  "encoding":{"x":{"field":"t","type":"temporal"},"y":{"field":"v","type":"quantitative"}}}
]},
{"width":584,"height":45,"resolve":{"axis":{"y":"independent"}},"layer":[
 {"data":{"name":"h"},"mark":{"type":"line","color":"#0000ff","strokeWidth":1.2,"invalid":"break-paths-show-domains"},
  "encoding":{"x":{"field":"t","type":"temporal","title":null,"scale":{"domain":[{"year":2022,"month":12,"date":30},{"year":2023,"month":1,"date":14}]}},
   "y":{"field":"bt","type":"quantitative","scale":{"domain":[-20,20]},"axis":{"orient":"left","values":[-10,10],"labelOverlap":false,"labelExpr":"datum.value<0?'-10':'10'","title":"rt"}}}},
 {"data":{"name":"h"},"mark":{"type":"line","color":"#ff0000","strokeWidth":1,"invalid":"break-paths-show-domains"},
  "encoding":{"x":{"field":"t","type":"temporal"},"y":{"field":"bz","type":"quantitative","axis":null}}},
 {"data":{"values":[{"z":0}]},"mark":{"type":"rule","color":"#aa0000","strokeWidth":1.5},
  "encoding":{"y":{"field":"z","type":"quantitative","axis":{"orient":"left","values":[0],"labelOverlap":false,"labelExpr":"'0'","title":null}}}}
]},
{"width":584,"height":45,"layer":[
 {"data":{"values":[{}]},"mark":{"type":"rule","color":"#d05050","strokeWidth":1.5},"encoding":{"y":{"datum":0,"type":"quantitative"}}},
 {"data":{"name":"d2"},"mark":{"type":"line","color":"#ff00ff","strokeWidth":1},
  "encoding":{"x":{"field":"t","type":"temporal","title":null,"scale":{"domain":[{"year":2022,"month":12,"date":30},{"year":2023,"month":1,"date":14}]}},
   "y":{"field":"dst","type":"quantitative","scale":{"domain":[-100,50]},"axis":{"values":[-50,0],"labelOverlap":false,"labelExpr":"replace(datum.label,'\u2212','-')","title":null}}}}
]},
{"width":584,"height":45,"data":{"name":"d2"},"layer":[
 {"mark":{"type":"line","color":"#00ffff","strokeWidth":1},
  "encoding":{"x":{"field":"t","type":"temporal","title":null,"scale":{"domain":[{"year":2022,"month":12,"date":30},{"year":2023,"month":1,"date":14}]}},
   "y":{"field":"c1","type":"quantitative","scale":{"domain":[0,60]},"axis":{"values":[20,40],"labelOverlap":false,"title":null}}}},
 {"mark":{"type":"line","color":"#00ffff","strokeWidth":1},
  "encoding":{"x":{"field":"t","type":"temporal"},"y":{"field":"c2","type":"quantitative"}}}
]},
{"width":584,"height":45,"layer":[
 {"data":{"values":[{"v":1e6},{"v":1e7}]},"mark":{"type":"rule","color":"#cc0000","strokeWidth":1},
  "encoding":{"y":{"field":"v","type":"quantitative","scale":{"type":"log","domain":[1e5,5e7]},"axis":{"values":[1e6,1e7],"labelOverlap":false,"labelExpr":"datum.value>5e6?'10\u2077':'10\u2076'","title":"rt"}}}},
 {"data":{"name":"h"},"mark":{"type":"line","color":"#a030d0","strokeWidth":1.2,"clip":true,"invalid":"break-paths-show-domains"},
  "encoding":{"x":{"field":"t","type":"temporal","title":null,"scale":{"domain":[{"year":2022,"month":12,"date":30},{"year":2023,"month":1,"date":14}]}},
   "y":{"field":"p7","type":"quantitative"}}}
]},
{"width":584,"height":45,"layer":[
 {"data":{"name":"h"},"mark":{"type":"line","color":"#0000ff","strokeWidth":1.2,"clip":true},
  "encoding":{"x":{"field":"t","type":"temporal","title":null,"scale":{"domain":[{"year":2022,"month":12,"date":30},{"year":2023,"month":1,"date":14}]}},
   "y":{"field":"e1","type":"quantitative","scale":{"type":"log","domain":[10,1e5]},"axis":{"values":[100,1000,10000],"labelOverlap":false,"labelExpr":"datum.value>5000?'10\u2074':datum.value>500?'10\u00b3':'10\u00b2'","title":"rt"}}}},
 {"data":{"name":"h"},"mark":{"type":"line","color":"#ff0000","strokeWidth":1.2,"clip":true},
  "encoding":{"x":{"field":"t","type":"temporal"},"y":{"field":"e2","type":"quantitative"}}},
 {"data":{"values":[{}]},"mark":{"type":"rule","color":"#e02828","strokeWidth":1.5,"strokeDash":[8,5]},"encoding":{"y":{"datum":10000,"type":"quantitative"}}}
]},
{"width":584,"height":45,"data":{"name":"d2"},"mark":{"type":"line","color":"#0000ff","strokeWidth":1.5},
 "encoding":{"x":{"field":"t","type":"temporal","scale":{"domain":[{"year":2022,"month":12,"date":30},{"year":2023,"month":1,"date":14}]},
   "axis":{"orient":"bottom","labels":true,"domainWidth":1,"domainColor":"#000","ticks":true,"tickSize":3,"tickColor":"#aaaaaa","labelPadding":3,"labelOffset":19.5,"labelFlush":false,"labelOverlap":false,"format":"%-m/%e","labelExpr":"datum.value >= datetime(2023,0,14) ? '' : datum.label","title":"2022","titleX":-1.5,"titleY":6,"titleAlign":"right","titleBaseline":"top","titleFontSize":10,"titleColor":"#000","titleFontWeight":"normal"}},
  "y":{"field":"pb","type":"quantitative","scale":{"type":"log","domain":[0.1,1e5]},"axis":{"values":[1,100,10000],"labelOverlap":false,"labelExpr":"datum.value>5000?'10\u2074':datum.value>50?'10\u00b2':'10\u2070'","title":null}}}}
],
"config":{
 "font":"DejaVu Sans",
 "view":{"stroke":"#000","strokeWidth":1},
 "axis":{"ticks":false,"gridColor":"#d0d0d0","gridWidth":1,"labelColor":"#000","labelFontSize":10,"labelFont":"DejaVu Sans","titleFont":"DejaVu Sans","titleFontWeight":"normal"},
 "axisX":{"grid":true,"labels":false,"domainColor":"#222","domainWidth":3,"tickCount":"day"},
 "axisY":{"grid":true,"domain":false,"labelPadding":3,"labelOverlap":false,"titleAngle":0,"titleX":589,"titleY":10,"titleAlign":"left","titleBaseline":"middle","titleFontSize":7,"titleColor":"#444"}
}
}
